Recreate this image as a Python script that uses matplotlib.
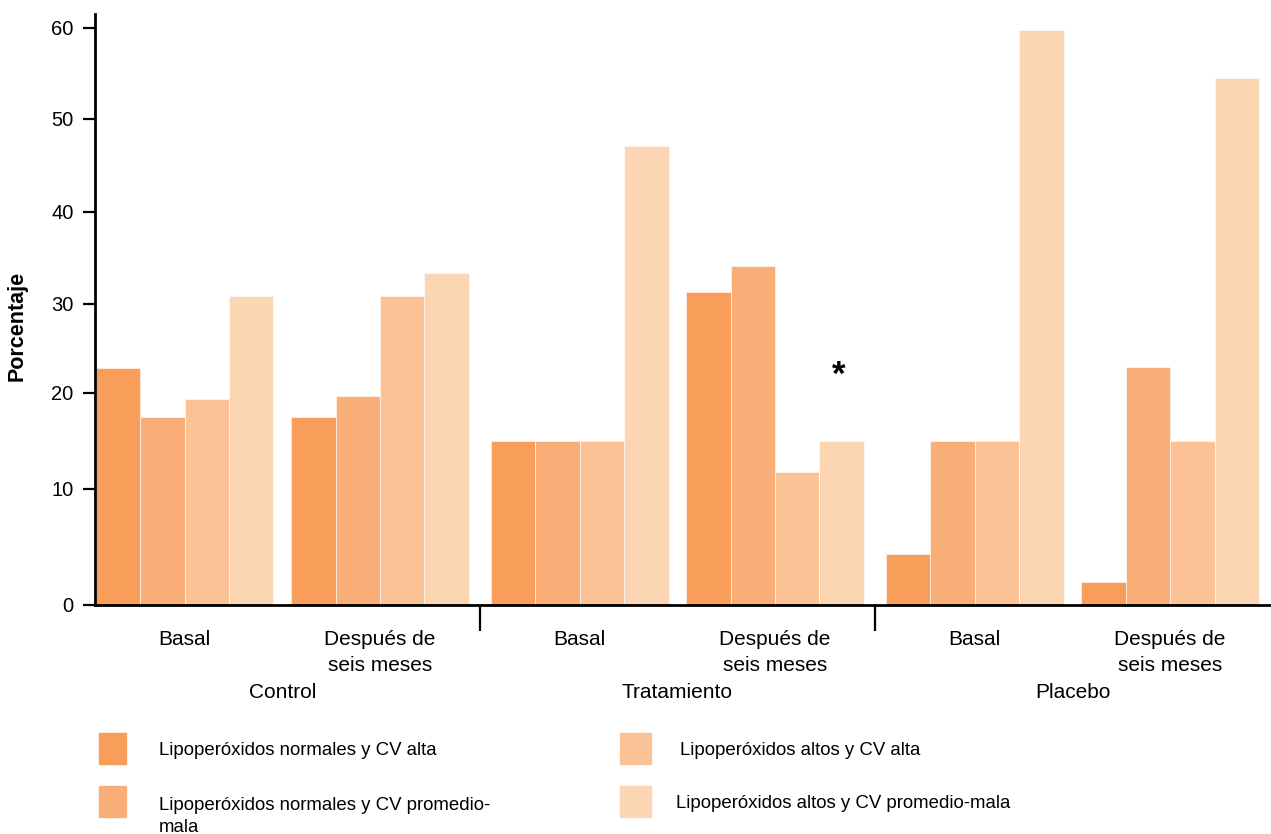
import numpy as np
import matplotlib
matplotlib.use("Agg")
import matplotlib.pyplot as plt
from matplotlib.patches import Rectangle

# datos (porcentaje)
grupos = ["Control", "Tratamiento", "Placebo"]
momentos = ["Basal", "Después de\nseis meses"]
series = [
    "Lipoperóxidos normales y CV alta",
    "Lipoperóxidos normales y CV promedio-\nmala",
    "Lipoperóxidos altos y CV alta",
    "Lipoperóxidos altos y CV promedio-mala",
]
# orden: Control basal, Control 6m, Trat basal, Trat 6m, Placebo basal, Placebo 6m
norm_cv_alta = [22.8, 17.5, 15.0, 31.3, 4.4, 2.0]
norm_cv_mala = [17.5, 19.7, 15.0, 34.1, 15.0, 22.9]
altos_cv_alta = [19.4, 30.9, 15.0, 11.8, 15.0, 15.0]
altos_cv_mala = [30.9, 33.3, 47.1, 15.0, 59.7, 54.5]
valores = [norm_cv_alta, norm_cv_mala, altos_cv_alta, altos_cv_mala]
colores = ["#F89D5A", "#F9AE78", "#FAC295", "#FCD5B2"]

yticks = [0, 10, 20, 30, 40, 50, 60]

plt.rcParams["font.family"] = ["Liberation Sans", "DejaVu Sans"]

W, H = 1271, 834
fig = plt.figure(figsize=(W / 100, H / 100), dpi=100)
ax = fig.add_axes([95 / W, 229 / H, 1175 / W, 591 / H])

# el eje original no es regular entre marcas: escala lineal por tramos
marcas_px = [0, 116, 212, 301, 393, 486, 577]
xs = np.array([-100] + yticks + [200], dtype=float)
hs = np.array([-1160] + marcas_px + [577 + 140 * 9.1], dtype=float)


def fwd(v):
    return np.interp(v, xs, hs)


def inv(h):
    return np.interp(h, hs, xs)


ax.set_yscale("function", functions=(fwd, inv))

# posiciones de los subgrupos
paso_grupo, paso_momento = 8.90, 4.40
centros = []
for g in range(len(grupos)):
    for m in range(len(momentos)):
        centros.append(g * paso_grupo + m * paso_momento)
centros = np.array(centros)

for i, (vals, col) in enumerate(zip(valores, colores)):
    ax.bar(centros + (i - 1.5), vals, width=1.0, color=col,
           edgecolor="white", linewidth=0.4, zorder=2)

# asterisco sobre Tratamiento, después de seis meses
ax.annotate("*", xy=(centros[3] + 1.5, altos_cv_mala[3]), xytext=(-2, 47),
            textcoords="offset points", ha="center", va="center",
            fontsize=25, fontweight="bold")

ax.set_xlim(-2.02, centros[-1] + 2.25)
ax.set_ylim(0, 61.5)
ax.set_yticks(yticks)
ax.set_yticklabels([str(t) for t in yticks])

ax.set_xticks(centros)
ax.set_xticklabels(momentos * len(grupos))
seps = [(centros[2 * g + 1] + centros[2 * g + 2]) / 2 for g in range(len(grupos) - 1)]
ax.set_xticks(seps, minor=True)
ax.tick_params(axis="x", which="major", length=0, pad=18, labelsize=15)
ax.tick_params(axis="x", which="minor", length=19, width=1.6, direction="out")
ax.tick_params(axis="y", length=8.5, width=1.6, pad=7, labelsize=14.5)
for t in ax.get_xticklabels():
    t.set_linespacing(1.45)

for g, nombre in enumerate(grupos):
    cx = (centros[2 * g] + centros[2 * g + 1]) / 2
    ax.text(cx, -0.148, nombre, transform=ax.get_xaxis_transform(),
            ha="center", va="center", fontsize=15)

ax.set_ylabel("Porcentaje", fontsize=15.5, fontweight="bold")
ax.yaxis.set_label_coords(-0.057, 0.472)

for s in ["top", "right"]:
    ax.spines[s].set_visible(False)
for s in ["left", "bottom"]:
    ax.spines[s].set_linewidth(2)

# leyenda dibujada a mano (dos columnas)
cajas = [(99, 733, 27, 31), (99, 786, 27, 31), (620, 733, 31, 31), (620, 786, 31, 31)]
textos_x = [159, 159, 680, 676]
# línea base de la última línea de cada texto
bases = [755, 832, 755, 808]
for (bx, by, bw, bh), tx, ty, lab, col in zip(cajas, textos_x, bases, series, colores):
    fig.add_artist(Rectangle((bx / W, 1 - (by + bh) / H), bw / W, bh / H,
                             transform=fig.transFigure, color=col))
    fig.text(tx / W, 1 - ty / H, lab, fontsize=13.4, va="baseline", ha="left",
             linespacing=1.35)

fig.savefig("out.png", dpi=100)
